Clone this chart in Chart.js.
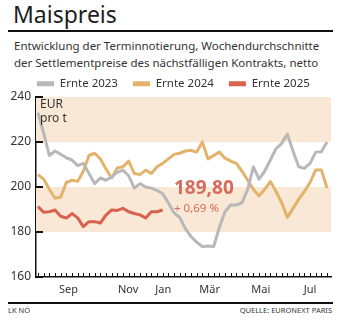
<!DOCTYPE html>
<html lang="de">
<head>
<meta charset="utf-8">
<title>Maispreis</title>
<script src="https://cdn.jsdelivr.net/npm/chart.js@4.4.1/dist/chart.umd.min.js"></script>
<style>
  html, body { margin: 0; padding: 0; background: #fff; }
  body { width: 341px; height: 321px; position: relative; overflow: hidden; font-family: 'Noto Sans', sans-serif; color: #222; }
  h1 { position: absolute; left: 13px; top: -1px; margin: 0; font-size: 23px; font-weight: 400; line-height: 30px; color: #1e1e1e; }
  .rule { position: absolute; left: 8px; width: 325px; height: 2px; background: #111; }
  .sub { position: absolute; left: 14px; top: 37px; margin: 0; font-size: 11.5px; line-height: 17px; color: #333; }
  .foot { position: absolute; top: 305px; font-size: 7.5px; color: #333; }
  #wrap { position: absolute; left: 0; top: 63px; width: 341px; height: 237px; }
</style>
</head>
<body>
<h1>Maispreis</h1>
<div class="rule" style="top:30px"></div>
<p class="sub">Entwicklung der Terminnotierung, Wochendurchschnitte<br>der Settlementpreise des nächstfälligen Kontrakts, netto</p>
<div id="wrap"><canvas id="chart" width="341" height="237"></canvas></div>
<div class="rule" style="top:302px"></div>
<div class="foot" style="left:8px">LK NÖ</div>
<div class="foot" style="right:9px">QUELLE: EURONEXT PARIS</div>

<script>
// weekly settlement averages, EUR/t, week 0 = early August
const ernte2023 = [233, 224, 214, 216, 214.5, 213, 212, 209.5, 210.5, 206, 201.5, 204, 203, 204.5, 206.5, 207.5,
  205, 199.5, 201.5, 200, 199.5, 198.5, 197, 193, 188.5, 186.5, 181.5, 178, 175.5, 173.5, 173.8, 173.5,
  182, 189, 192, 192, 193, 199, 209, 203.5, 207, 212, 217, 219.4, 223.5, 216, 209, 208.3, 210.5, 215.5, 215.7, 220];
const ernte2024 = [205.5, 203.5, 199, 195, 195.5, 202, 203, 202.5, 207, 214, 215, 212.5, 208, 204, 208.5, 209,
  211.5, 206, 205.5, 207.5, 206, 209, 210.5, 212.5, 214.5, 215, 216, 216.3, 215.5, 220, 212.5, 214,
  215.5, 212.8, 211.5, 210.5, 207, 203, 199, 196, 199, 202.4, 198, 193, 186.5, 190.5, 194.5, 198, 202, 207.6, 207.6, 199.5];
const ernte2025 = [191.3, 188.8, 189, 189.8, 187, 186.2, 188.2, 186.3, 182.4, 184.6, 184.6, 184, 187.5, 189.8,
  189.6, 190.5, 189, 188.2, 187.6, 186.2, 189, 189, 189.8];

const seriesNames = ['Ernte 2023', 'Ernte 2024', 'Ernte 2025'];
const seriesColors = ['#b8b8b8', '#e3b36b', '#d9624e'];

const monthLabels = ['Sep', 'Nov', 'Jan', 'Mär', 'Mai', 'Jul'];
const monthPos = [5.4, 15.9, 22.1, 30.3, 39.3, 48.0];
const yTicks = [160, 180, 200, 220, 240];
const bands = [[220, 240], [180, 200]];

const lastPrice = '189,80';
const lastChange = '+ 0,69 %';

const FONT = "'Noto Sans', sans-serif";

const toPoints = arr => arr.map((v, i) => ({ x: i, y: v }));

// beige bands behind the lines, inward tick marks and labels on top
const decor = {
  id: 'decor',
  beforeUpdate(chart) {
    // keep the legend a fixed height so the plot top lands where it should
    if (chart.legend && !chart.legend._patched) {
      const fit = chart.legend.fit;
      chart.legend.fit = function () { fit.call(this); this.height = 34; };
      chart.legend._patched = true;
    }
  },
  beforeDatasetsDraw(chart) {
    const { ctx, chartArea: a, scales: { y } } = chart;
    ctx.save();
    ctx.fillStyle = '#fae8d6';
    bands.forEach(([lo, hi]) => {
      const top = y.getPixelForValue(hi), bot = y.getPixelForValue(lo);
      ctx.fillRect(a.left, top, a.right - a.left, bot - top);
    });
    ctx.restore();
  },
  afterDraw(chart) {
    const { ctx, chartArea: a, scales: { x, y } } = chart;
    ctx.save();
    ctx.strokeStyle = '#111';
    ctx.fillStyle = '#333';
    ctx.font = '12px ' + FONT;
    ctx.textAlign = 'right';
    ctx.textBaseline = 'middle';
    yTicks.forEach(v => {
      const py = Math.round(y.getPixelForValue(v));
      ctx.lineWidth = 2;
      ctx.beginPath(); ctx.moveTo(a.left, py); ctx.lineTo(a.left + 7, py); ctx.stroke();
      ctx.fillText(String(v), a.left - 5, py);
    });
    ctx.lineWidth = 1;
    for (let i = 0; i < ernte2023.length; i++) {
      const px = Math.round(x.getPixelForValue(i)) + 0.5;
      ctx.beginPath(); ctx.moveTo(px, a.bottom); ctx.lineTo(px, a.bottom - 4); ctx.stroke();
    }

    ctx.textAlign = 'left';
    ctx.fillText('EUR', a.left + 4, a.top + 8);
    ctx.fillText('pro t', a.left + 4, a.top + 22);

    const lx = x.getPixelForValue(24);
    ctx.fillStyle = '#d86a59';
    ctx.font = 'bold 19px ' + FONT;
    ctx.fillText(lastPrice, lx, y.getPixelForValue(199.5));
    ctx.font = '11.5px ' + FONT;
    ctx.fillText(lastChange, lx, y.getPixelForValue(190.5));
    ctx.restore();
  }
};

new Chart(document.getElementById('chart'), {
  type: 'line',
  data: {
    datasets: [ernte2023, ernte2024, ernte2025].map((arr, i) => ({
      label: seriesNames[i],
      data: toPoints(arr),
      borderColor: seriesColors[i],
      backgroundColor: seriesColors[i],
      borderWidth: 3,
      pointRadius: 0,
      borderJoinStyle: 'round',
      tension: 0
    }))
  },
  options: {
    responsive: false,
    devicePixelRatio: 1,
    animation: false,
    layout: { padding: { left: 22, right: 10, top: 0, bottom: 0 } },
    plugins: {
      tooltip: { enabled: false },
      legend: {
        align: 'start',
        labels: {
          boxWidth: 17,
          boxHeight: 5,
          padding: 15,
          color: '#333',
          font: { family: FONT, size: 11.5 },
          generateLabels: chart => Chart.defaults.plugins.legend.labels.generateLabels(chart)
            .map(l => ({ ...l, lineWidth: 0 }))
        }
      }
    },
    scales: {
      x: {
        type: 'linear',
        min: -0.35,
        max: 51.7,
        afterBuildTicks: s => { s.ticks = monthPos.map(v => ({ value: v })); },
        afterFit: s => { s.height = 23; },
        grid: { display: false, drawTicks: false },
        border: { display: true, color: '#111', width: 1.5 },
        ticks: {
          autoSkip: false,
          maxRotation: 0,
          padding: 6,
          color: '#333',
          font: { family: FONT, size: 11 },
          callback: (v, i) => monthLabels[i]
        }
      },
      y: {
        min: 160,
        max: 240,
        afterBuildTicks: s => { s.ticks = yTicks.map(v => ({ value: v })); },
        afterFit: s => { s.width = 14; },
        grid: { display: false, drawTicks: false },
        border: { display: true, color: '#111', width: 1.5 },
        ticks: { display: false }
      }
    }
  },
  plugins: [decor]
});
</script>
</body>
</html>
